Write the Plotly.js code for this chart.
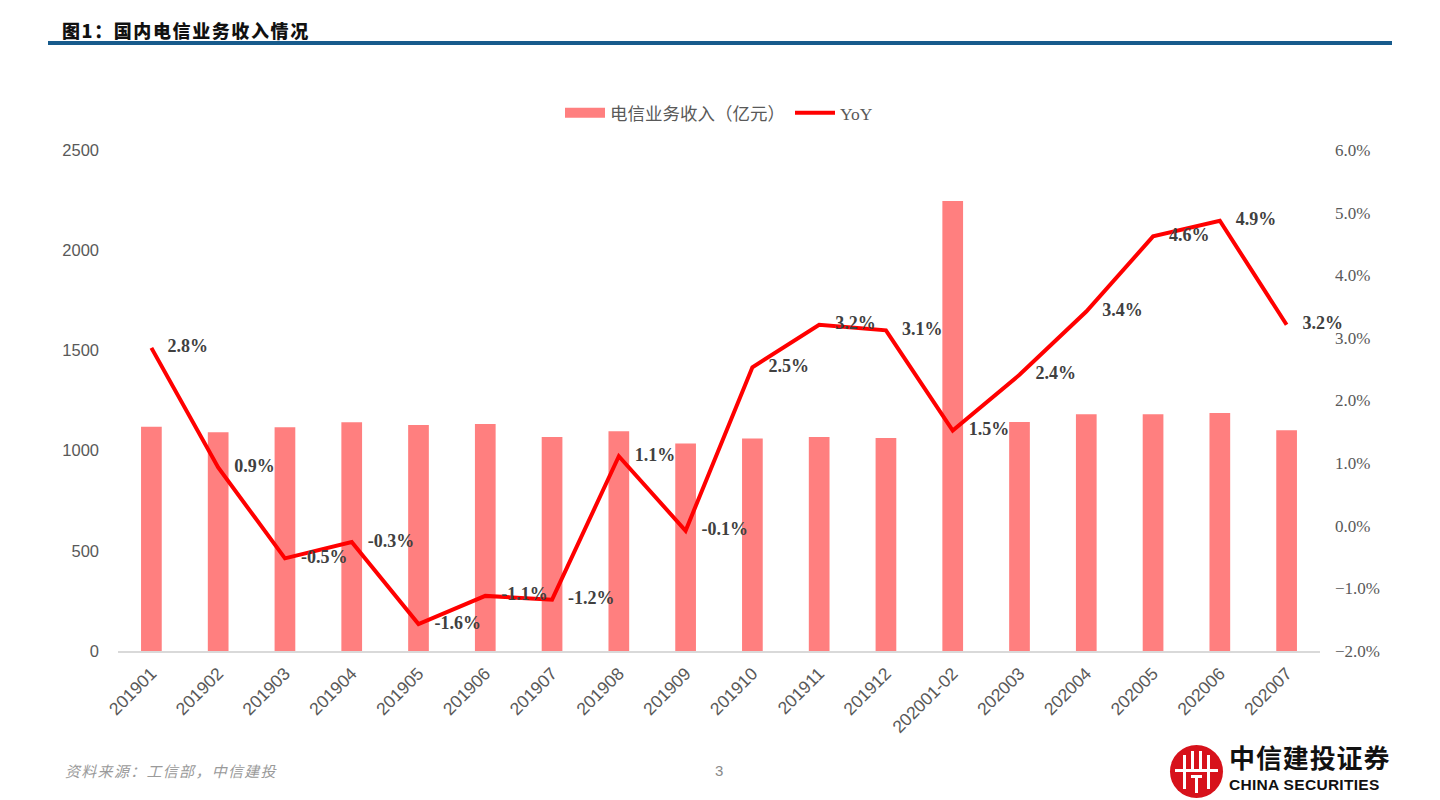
<!DOCTYPE html>
<html>
<head>
<meta charset="utf-8">
<script src="https://cdn.plot.ly/plotly-3.0.1.min.js"></script>
<style>
  html, body { margin: 0; padding: 0; background: #fff; width: 1440px; height: 800px; overflow: hidden; position: relative; }
  #chart { position: absolute; left: 0; top: 0; width: 1440px; height: 800px; }
  #title { position: absolute; left: 62px; top: 18px; font-family: "Noto Sans CJK SC", sans-serif; font-weight: 900; font-size: 18px; line-height: 24px; color: #111; letter-spacing: 1.6px; }
  #rule { position: absolute; left: 48px; top: 41px; width: 1344px; height: 4px; background: #175b8c; }
  #source { position: absolute; left: 64px; top: 761px; font-family: "Noto Sans CJK SC", sans-serif; font-size: 15px; line-height: 20px; color: #9a9a9a; letter-spacing: 1.3px; transform: skewX(-14deg); transform-origin: left bottom; }
  #page { position: absolute; left: 715px; top: 762px; font-family: "Liberation Sans", sans-serif; font-size: 15px; color: #8a8a8a; }
  #logo { position: absolute; left: 1170px; top: 745px; width: 53px; height: 53px; border-radius: 50%; background: #d7121b; overflow: hidden; }
  #logo .b { position: absolute; background: #fff; }
  #logoCn { position: absolute; left: 1229px; top: 742px; font-family: "Noto Sans CJK SC", sans-serif; font-weight: 700; font-size: 26px; line-height: 30px; color: #111; letter-spacing: 0.9px; }
  #logoEn { position: absolute; left: 1229px; top: 776px; font-family: "Liberation Sans", sans-serif; font-weight: 700; font-size: 15.5px; line-height: 18px; color: #111; letter-spacing: 0.3px; }
</style>
</head>
<body>
<div id="chart"></div>
<div id="title">图1：国内电信业务收入情况</div>
<div id="rule"></div>
<div id="source">资料来源：工信部，中信建投</div>
<div id="page">3</div>
<div id="logo">
  <div class="b" style="left:5px;top:24px;width:43px;height:3px;"></div>
  <div class="b" style="left:13px;top:10px;width:3px;height:34px;"></div>
  <div class="b" style="left:37px;top:10px;width:3px;height:34px;"></div>
  <div class="b" style="left:21px;top:6px;width:3px;height:20px;"></div>
  <div class="b" style="left:29px;top:6px;width:3px;height:20px;"></div>
  <div class="b" style="left:21px;top:30px;width:11px;height:3px;"></div>
  <div class="b" style="left:25px;top:30px;width:3px;height:18px;"></div>
</div>
<div id="logoCn">中信建投证券</div>
<div id="logoEn">CHINA SECURITIES</div>
<script>
const categories = ["201901","201902","201903","201904","201905","201906","201907","201908","201909","201910","201911","201912","202001-02","202003","202004","202005","202006","202007"];
const revenue = [1119,1091,1116,1141,1128,1133,1068,1097,1035,1061,1068,1063,2245,1143,1181,1181,1188,1101];
const yoy = [2.84,0.93,-0.52,-0.26,-1.57,-1.12,-1.18,1.11,-0.08,2.53,3.21,3.12,1.52,2.41,3.42,4.62,4.87,3.21];
const yoyLabels = ["2.8%","0.9%","-0.5%","-0.3%","-1.6%","-1.1%","-1.2%","1.1%","-0.1%","2.5%","3.2%","3.1%","1.5%","2.4%","3.4%","4.6%","4.9%","3.2%"];
const seriesNames = ["电信业务收入（亿元）", "YoY"];

const traces = [
  {
    type: "bar", name: seriesNames[0], x: categories, y: revenue, showlegend: false,
    marker: { color: "#FF7F7F" }, yaxis: "y", hoverinfo: "skip"
  },
  {
    type: "scatter", mode: "lines", name: seriesNames[0], x: [null], y: [null],
    line: { color: "#FF7F7F", width: 10 }, yaxis: "y", hoverinfo: "skip"
  },
  {
    type: "scatter", mode: "lines", name: seriesNames[1], x: categories, y: yoy,
    line: { color: "#FF0000", width: 4 }, yaxis: "y2", hoverinfo: "skip"
  },
  {
    type: "scatter", mode: "markers+text", showlegend: false, x: categories, y: yoy,
    text: yoyLabels, textposition: "middle right",
    marker: { size: 24, color: "rgba(0,0,0,0)" },
    textfont: { family: "Liberation Serif, serif", size: 18, color: "#404040", weight: 700 },
    yaxis: "y2", hoverinfo: "skip", cliponaxis: false
  }
];

const layout = {
  width: 1440, height: 800,
  margin: { l: 118, r: 120, t: 150, b: 149 },
  paper_bgcolor: "#fff", plot_bgcolor: "#fff",
  showlegend: true,
  legend: {
    orientation: "h", x: 0.5, xanchor: "center", y: 1.074, yanchor: "middle",
    font: { family: "Liberation Serif, Noto Sans CJK SC, serif", size: 17.5, color: "#595959" },
    itemwidth: 40, traceorder: "normal"
  },
  bargap: 0.69,
  xaxis: {
    type: "category", range: [-0.5, 17.5], autorange: false,
    showgrid: false, zeroline: false,
    showline: true, linecolor: "#d9d9d9", linewidth: 1.5,
    ticks: "", tickangle: -45, ticklabelstandoff: 4,
    tickfont: { family: "Liberation Sans, Arial, sans-serif", size: 17.5, color: "#595959" }
  },
  yaxis: {
    range: [0, 2500], dtick: 500, showgrid: false, zeroline: false, showline: false,
    ticks: "", ticklabelstandoff: 18,
    tickfont: { family: "Liberation Sans, Arial, sans-serif", size: 16.5, color: "#595959" }
  },
  yaxis2: {
    overlaying: "y", side: "right", range: [-2, 6], dtick: 1,
    tickformat: ".1f", ticksuffix: "%",
    showgrid: false, zeroline: false, showline: false, ticks: "", ticklabelstandoff: 14,
    tickfont: { family: "Liberation Serif, serif", size: 17, color: "#595959" }
  }
};

Plotly.newPlot("chart", traces, layout, { displayModeBar: false, staticPlot: true });
</script>
</body>
</html>
